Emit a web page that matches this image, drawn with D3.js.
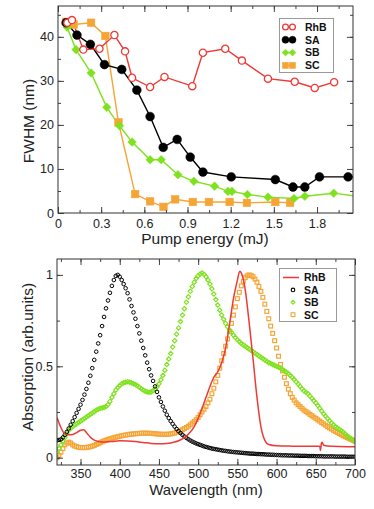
<!DOCTYPE html>
<html><head><meta charset="utf-8">
<script src="https://cdn.jsdelivr.net/npm/d3@7"></script>
<style>body{margin:0;background:#fff}svg{display:block}</style>
</head><body>
<svg id="c" width="374" height="509"></svg>
<script>
// ---------- Top panel data: FWHM vs pump energy ----------
const topSeries = ["RhB","SA","SB","SC"];
const rhbE = [0.065,0.097,0.176,0.288,0.392,0.466,0.515,0.640,0.740,0.933,1.007,1.162,1.278,1.459,1.645,1.784,1.919];
const rhbW = [43.2,43.8,37.1,37.3,40.4,36.7,30.7,28.6,30.9,28.8,36.4,37.3,34.6,30.5,29.8,28.4,29.7];
const saE = [0.056,0.132,0.225,0.323,0.443,0.548,0.640,0.731,0.828,0.919,1.007,1.204,1.510,1.633,1.715,1.817,2.016,2.12];
const saW = [43.2,40.4,38.3,33.7,32.6,27.9,21.9,14.9,16.7,12.7,9.3,8.2,7.6,5.9,5.9,8.2,8.2,8.2];
const sbE = [0.063,0.125,0.230,0.339,0.427,0.515,0.640,0.717,0.833,0.944,1.088,1.181,1.209,1.316,1.459,1.640,1.715,1.916,2.12];
const sbW = [42.2,37.1,31.8,24.0,19.8,16.1,12.1,12.1,8.7,7.2,6.1,4.9,4.9,4.2,3.6,3.3,3.8,4.5,3.6];
const scE = [0.058,0.109,0.230,0.329,0.420,0.536,0.640,0.733,0.814,0.937,1.049,1.193,1.313,1.510,1.613];
const scW = [43.4,42.8,43.2,40.2,20.6,4.3,2.65,1.4,3.1,2.5,2.5,2.5,2.3,2.5,2.3];
const topXTicks = [0,0.3,0.6,0.9,1.2,1.5,1.8];
const topYTicks = [0,10,20,30,40];

// ---------- Bottom panel data: absorption spectra (320–700 nm, 2.5 nm step) ----------
const bottomSeries = ["RhB","SA","SB","SC"];
const wl = d3.range(0, 153).map(i => 320 + i * 2.5);
const saAbs = [
  0.095,0.097,0.10,0.111,0.125,0.141,0.16,0.18,0.20,0.222,0.245,0.267,0.29,0.316,0.345,0.376,0.41,0.448,0.49,0.535,
  0.58,0.625,0.67,0.72,0.77,0.817,0.86,0.902,0.94,0.972,0.995,1.0,0.99,0.972,0.95,0.927,0.90,0.866,0.83,0.795,
  0.76,0.72,0.68,0.64,0.60,0.56,0.52,0.484,0.45,0.42,0.39,0.36,0.33,0.305,0.28,0.257,0.235,0.217,0.20,0.185,
  0.17,0.157,0.145,0.135,0.125,0.116,0.108,0.101,0.094,0.088,0.083,0.078,0.074,0.07,0.066,0.062,0.059,0.056,0.053,0.05,
  0.048,0.046,0.044,0.042,0.040,0.038,0.037,0.035,0.034,0.032,0.031,0.030,0.029,0.028,0.027,0.026,0.025,0.024,0.023,0.022,
  0.022,0.021,0.020,0.020,0.019,0.019,0.018,0.017,0.017,0.016,0.016,0.015,0.015,0.014,0.014,0.013,0.013,0.013,0.012,0.012,
  0.012,0.011,0.011,0.011,0.010,0.010,0.010,0.010,0.009,0.009,0.009,0.009,0.008,0.008,0.008,0.008,0.007,0.007,0.007,0.007,
  0.007,0.007,0.006,0.006,0.006,0.006,0.006,0.006,0.005,0.005,0.005,0.005,0.005];
const sbAbs = [
  0.03,0.05,0.07,0.09,0.11,0.13,0.15,0.162,0.17,0.178,0.185,0.192,0.20,0.207,0.215,0.222,0.23,0.237,0.245,0.252,
  0.26,0.265,0.27,0.272,0.275,0.28,0.29,0.308,0.33,0.35,0.37,0.384,0.395,0.404,0.41,0.413,0.415,0.413,0.41,0.405,
  0.40,0.393,0.385,0.377,0.37,0.364,0.36,0.358,0.36,0.366,0.375,0.388,0.405,0.426,0.45,0.478,0.51,0.54,0.57,0.605,
  0.64,0.675,0.71,0.745,0.78,0.815,0.85,0.88,0.91,0.937,0.96,0.98,0.995,1.005,1.01,1.003,0.99,0.972,0.95,0.924,
  0.895,0.865,0.835,0.807,0.78,0.757,0.735,0.717,0.70,0.685,0.67,0.657,0.645,0.635,0.625,0.617,0.61,0.602,0.595,0.587,
  0.58,0.572,0.565,0.557,0.55,0.542,0.535,0.527,0.52,0.515,0.51,0.505,0.50,0.495,0.49,0.483,0.475,0.468,0.46,0.45,
  0.44,0.428,0.415,0.403,0.39,0.377,0.365,0.358,0.35,0.337,0.325,0.312,0.30,0.285,0.27,0.255,0.24,0.227,0.215,0.202,
  0.19,0.18,0.17,0.162,0.155,0.147,0.14,0.13,0.12,0.112,0.105,0.097,0.09];
const scAbs = [
  0.0,0.012,0.03,0.05,0.07,0.08,0.085,0.08,0.07,0.064,0.06,0.057,0.055,0.055,0.055,0.056,0.058,0.06,0.063,0.067,
  0.072,0.077,0.082,0.087,0.092,0.096,0.10,0.103,0.106,0.109,0.112,0.115,0.117,0.12,0.122,0.124,0.126,0.128,0.129,0.13,
  0.131,0.132,0.133,0.134,0.134,0.134,0.134,0.134,0.133,0.132,0.131,0.13,0.129,0.128,0.128,0.128,0.128,0.129,0.13,0.132,
  0.135,0.139,0.143,0.148,0.153,0.159,0.165,0.172,0.18,0.189,0.198,0.208,0.22,0.235,0.25,0.265,0.28,0.30,0.32,0.35,
  0.38,0.415,0.45,0.49,0.53,0.57,0.61,0.65,0.69,0.735,0.78,0.825,0.87,0.905,0.94,0.965,0.985,0.995,1.0,0.997,
  0.99,0.977,0.96,0.937,0.91,0.877,0.84,0.80,0.76,0.72,0.68,0.64,0.60,0.555,0.51,0.475,0.44,0.405,0.375,0.35,
  0.33,0.315,0.30,0.29,0.28,0.27,0.26,0.252,0.245,0.237,0.23,0.222,0.215,0.207,0.20,0.192,0.185,0.178,0.17,0.163,
  0.157,0.15,0.144,0.138,0.132,0.126,0.12,0.115,0.11,0.105,0.10,0.095,0.09];
const rhbWl = [320,325,330,335,340,345,350,354,358,362,366,370,375,380,390,400,410,420,430,440,450,460,470,475,480,485,490,495,500,505,510,515,520,525,530,535,540,545,550,553,556,560,565,570,575,580,585,590,600,620,640,655,656,657,658,660,670,690,700];
const rhbAbs = [0.22,0.165,0.13,0.125,0.127,0.137,0.15,0.153,0.135,0.115,0.10,0.092,0.087,0.086,0.088,0.092,0.091,0.088,0.083,0.078,0.076,0.078,0.086,0.093,0.103,0.118,0.14,0.17,0.215,0.27,0.33,0.39,0.44,0.47,0.52,0.60,0.73,0.87,0.97,1.02,1.0,0.92,0.74,0.54,0.33,0.17,0.095,0.072,0.065,0.063,0.062,0.062,0.04,0.075,0.085,0.068,0.062,0.06,0.06];
const botXTicks = [350,400,450,500,550,600,650,700];
const botYTicks = [0,0.5,1];

// ---------- styles ----------
const col = {RhB:"#ee3a36", SA:"#000000", SB:"#7ee21e", SC:"#f5a536"};
const svg = d3.select("#c");
const FONT = "'Liberation Sans', Arial, sans-serif";

function frame(g, x, y, xMaj, xMin, yMaj, yMin, xFmt, yFmt, xPad) {
  const [x0,x1] = x.range(), [y0,y1] = y.range();
  g.append("g").attr("transform",`translate(0,${y0})`)
    .call(d3.axisBottom(x).tickValues(xMin).tickSize(-3).tickFormat(""));
  g.append("g").attr("transform",`translate(0,${y0})`)
    .call(d3.axisBottom(x).tickValues(xMaj).tickSizeInner(-6).tickSizeOuter(0).tickPadding(xPad).tickFormat(xFmt))
    .attr("class","lab");
  g.append("g").attr("transform",`translate(0,${y1})`)
    .call(d3.axisTop(x).tickValues(xMin).tickSize(-3).tickFormat(""));
  g.append("g").attr("transform",`translate(0,${y1})`)
    .call(d3.axisTop(x).tickValues(xMaj).tickSize(-6).tickFormat(""));
  g.append("g").attr("transform",`translate(${x0},0)`)
    .call(d3.axisLeft(y).tickValues(yMin).tickSize(-3).tickFormat(""));
  g.append("g").attr("transform",`translate(${x0},0)`)
    .call(d3.axisLeft(y).tickValues(yMaj).tickSizeInner(-6).tickSizeOuter(0).tickPadding(4).tickFormat(yFmt))
    .attr("class","lab");
  g.append("g").attr("transform",`translate(${x1},0)`)
    .call(d3.axisRight(y).tickValues(yMin).tickSize(-3).tickFormat(""));
  g.append("g").attr("transform",`translate(${x1},0)`)
    .call(d3.axisRight(y).tickValues(yMaj).tickSize(-6).tickFormat(""));
  g.selectAll(".domain").remove();
  g.selectAll(".tick line").attr("stroke","#444").attr("stroke-width",1);
  g.selectAll(".lab text").attr("font-family",FONT).attr("font-size",12.5).attr("fill","#222");
  g.append("rect").attr("x",x0).attr("y",y1).attr("width",x1-x0).attr("height",y0-y1)
    .attr("fill","none").attr("stroke","#333").attr("stroke-width",1);
}

function marker(sel, type, size, color, filled, sw) {
  if (type === "circle") {
    sel.append("circle").attr("r", size).attr("fill", filled ? color : "#fff")
      .attr("stroke", color).attr("stroke-width", filled ? 0.5 : (sw || 1.3));
  } else if (type === "diamond") {
    sel.append("path").attr("d", `M0,${-size}L${size},0L0,${size}L${-size},0Z`)
      .attr("fill", filled ? color : "none").attr("stroke", color).attr("stroke-width", filled ? 0.5 : (sw || 1));
  } else {
    sel.append("rect").attr("x",-size).attr("y",-size).attr("width",2*size).attr("height",2*size)
      .attr("fill", filled ? color : "none").attr("stroke", color).attr("stroke-width", filled ? 0.5 : (sw || 1));
  }
}

// ================= TOP PANEL =================
const xT = d3.scaleLinear([0, 2.05], [58, 353]);
const yT = d3.scaleLinear([0, 47], [213, 6]);
const gT = svg.append("g");
svg.append("clipPath").attr("id","clipT").append("rect")
  .attr("x",58).attr("y",6).attr("width",295).attr("height",207);

const topData = [
  {name:"SC", e:scE, w:scW, type:"square", size:3.8, filled:true},
  {name:"SB", e:sbE, w:sbW, type:"diamond", size:4.3, filled:true},
  {name:"SA", e:saE, w:saW, type:"circle", size:4.4, filled:true},
  {name:"RhB", e:rhbE, w:rhbW, type:"circle", size:3.6, filled:false}
];
const plotT = gT.append("g").attr("clip-path","url(#clipT)");
const lineT = d3.line().x(d=>xT(d[0])).y(d=>yT(d[1]));
topData.forEach(s => {
  const pts = s.e.map((v,i)=>[v, s.w[i]]);
  plotT.append("path").attr("d", lineT(pts)).attr("fill","none")
    .attr("stroke", col[s.name]).attr("stroke-width", 1.4);
});
topData.forEach(s => {
  const pts = s.e.map((v,i)=>[v, s.w[i]]);
  pts.forEach(p => {
    const m = plotT.append("g").attr("transform",`translate(${xT(p[0])},${yT(p[1])})`);
    marker(m, s.type, s.size, col[s.name], s.filled);
  });
});
frame(gT, xT, yT, topXTicks, d3.range(0, 2.05, 0.15), topYTicks, d3.range(0, 47, 5),
  d => d === 0 ? "0" : d3.format(".1f")(d), d3.format("d"), 6);

gT.append("text").attr("x", 205).attr("y", 244).attr("text-anchor","middle")
  .attr("font-family",FONT).attr("font-size",15.5).attr("fill","#222").text("Pump energy (mJ)");
gT.append("text").attr("transform","translate(34,121) rotate(-90)").attr("text-anchor","middle")
  .attr("font-family",FONT).attr("font-size",15.5).attr("fill","#222").text("FWHM (nm)");

const LEGFONT = "'Liberation Sans', Arial, sans-serif";
// top legend
const legT = gT.append("g");
legT.append("rect").attr("x",279.5).attr("y",18.5).attr("width",54).attr("height",54)
  .attr("fill","#fff").attr("stroke","#999").attr("stroke-width",1);
topSeries.forEach((n,i) => {
  const s = topData.find(d=>d.name===n);
  const yy = 27 + i*12.8;
  legT.append("line").attr("x1",283).attr("x2",295).attr("y1",yy).attr("y2",yy)
    .attr("stroke",col[n]).attr("stroke-width",1.4);
  [285.5, 292.5].forEach(xx => {
    const m = legT.append("g").attr("transform",`translate(${xx},${yy})`);
    marker(m, s.type, s.size*0.8, col[n], s.filled);
  });
  legT.append("text").attr("x",305).attr("y",yy+3.8).attr("font-family",LEGFONT)
    .attr("font-weight","bold").attr("font-size",10.5).attr("fill","#111").text(n);
});

// ================= BOTTOM PANEL =================
const xB = d3.scaleLinear([320, 700], [57, 355]);
const yB = d3.scaleLinear([-0.04, 1.087], [465, 259]);
const gB = svg.append("g");
svg.append("clipPath").attr("id","clipB").append("rect")
  .attr("x",57).attr("y",259).attr("width",298).attr("height",206);
const plotB = gB.append("g").attr("clip-path","url(#clipB)");

const botData = [
  {name:"SC", v:scAbs, type:"square", size:1.9, sw:1.2},
  {name:"SB", v:sbAbs, type:"diamond", size:2.2, sw:1.15},
  {name:"SA", v:saAbs, type:"circle", size:1.8, sw:1.0}
];
botData.forEach(s => {
  wl.forEach((w,i) => {
    const m = plotB.append("g").attr("transform",`translate(${xB(w)},${yB(s.v[i])})`);
    if (s.type === "circle") {
      m.append("circle").attr("r", s.size).attr("fill","none").attr("stroke",col[s.name]).attr("stroke-width",s.sw);
    } else {
      marker(m, s.type, s.size, col[s.name], false, s.sw);
    }
  });
});
const lineB = d3.line().x(d=>xB(d[0])).y(d=>yB(d[1])).curve(d3.curveMonotoneX);
plotB.append("path").attr("d", lineB(rhbWl.map((w,i)=>[w, rhbAbs[i]])))
  .attr("fill","none").attr("stroke",col.RhB).attr("stroke-width",1.5);

frame(gB, xB, yB, botXTicks, d3.range(325, 701, 25), botYTicks, [0,0.25,0.5,0.75,1],
  d3.format("d"), d => d === 0.5 ? "0.5" : d3.format("d")(d), 4.5);

gB.append("text").attr("x", 206).attr("y", 495).attr("text-anchor","middle")
  .attr("font-family",FONT).attr("font-size",15).attr("fill","#222").text("Wavelength (nm)");
gB.append("text").attr("transform","translate(33,357) rotate(-90)").attr("text-anchor","middle")
  .attr("font-family",FONT).attr("font-size",15.5).attr("fill","#222").text("Absorption (arb.units)");

// bottom legend
const legB = gB.append("g");
legB.append("rect").attr("x",279.5).attr("y",268.5).attr("width",57).attr("height",53)
  .attr("fill","#fff").attr("stroke","#999").attr("stroke-width",1);
bottomSeries.forEach((n,i) => {
  const yy = 277.5 + i*12.4;
  if (n === "RhB") {
    legB.append("line").attr("x1",283).attr("x2",299).attr("y1",yy).attr("y2",yy)
      .attr("stroke",col[n]).attr("stroke-width",1.5);
  } else {
    const s = botData.find(d=>d.name===n);
    const m = legB.append("g").attr("transform",`translate(293,${yy})`);
    if (s.type === "circle") m.append("circle").attr("r",1.8).attr("fill","none").attr("stroke",col[n]).attr("stroke-width",1.1);
    else marker(m, s.type, 1.9, col[n], false, 1.1);
  }
  legB.append("text").attr("x",304).attr("y",yy+3.8).attr("font-family",LEGFONT)
    .attr("font-weight","bold").attr("font-size",10.5).attr("fill","#111").text(n);
});
</script>
</body></html>
